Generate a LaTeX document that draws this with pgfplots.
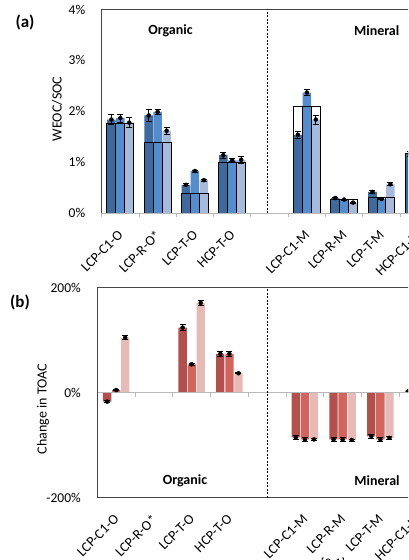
\documentclass[border=0pt]{standalone}
\usepackage{pgfplots}
\pgfplotsset{compat=1.18}
\usepackage{pgfplotstable}
\usepackage{fontspec}
\setmainfont{Carlito}
\definecolor{blueA}{RGB}{62,106,158}
\definecolor{blueB}{RGB}{84,140,204}
\definecolor{blueC}{RGB}{168,186,219}
\definecolor{redA}{RGB}{178,80,78}
\definecolor{redB}{RGB}{210,100,94}
\definecolor{redC}{RGB}{229,186,183}
\definecolor{spine}{RGB}{70,70,70}
\definecolor{lgray}{RGB}{185,185,185}

% panel (a): WEOC/SOC in %
\pgfplotstableread{
x   a1   e1    a2   e2    a3   e3    box
0.5 1.84 0.10  1.87 0.08  1.78 0.10  1.77
1.5 1.92 0.11  1.99 0.05  1.62 0.07  1.40
2.5 0.56 0.02  0.83 0.02  0.65 0.02  0.38
3.5 1.14 0.06  1.04 0.03  1.05 0.07  1.00
5.5 1.54 0.075 2.37 0.065 1.84 0.09  2.09
6.5 0.30 0.02  0.27 0.01  0.21 0.01  0.27
7.5 0.42 0.02  0.28 0.01  0.57 0.03  0.31
8.5 1.17 0.05  1.20 0.05  1.20 0.05  1.17
}\dataA

% panel (b): change in TOAC in %
\pgfplotstableread{
x   b1   f1  b2   f2  b3   f3
0.5 -17  2   5    1   105  4
2.5 124  6   54   2   171  4
3.5 74   4   74   4   37   1
5.5 -85  4   -89  3   -89  2
6.5 -89  4   -89  3   -90  2
7.5 -83  4   -89  3   -86  2
8.5 4    1   4    1   4    1
}\dataB

\pgfplotsset{
  common/.style={
    scale only axis,
    xmin=0, xmax=9,
    axis line style={draw=none},
    major tick length=0pt,
    tick style={draw=none},
    xtick={0.5,1.5,2.5,3.5,5.5,6.5,7.5,8.5},
    xticklabels={LCP-C1-O,LCP-R-O*,LCP-T-O,HCP-T-O,LCP-C1-M,LCP-R-M,LCP-T-M,HCP-C1-M},
    xticklabel style={xshift=-3pt, yshift=-11pt, rotate=45, anchor=north east, font=\fontsize{14}{16}\selectfont},
    yticklabel style={font=\fontsize{13.5}{16}\selectfont, xshift=-13pt},
    clip=false,
  },
  errs/.style={forget plot, only marks, mark=none,
    error bars/.cd, y dir=both, y explicit, error mark=none,
    error bar style={black, line width=0.8pt}},
  caps/.style={forget plot, only marks, mark=-, mark size=3pt,
    mark options={black, line width=0.8pt}},
}

\begin{document}
\begin{tikzpicture}
\useasboundingbox (0pt,0pt) rectangle (408pt,560pt);
\clip (0pt,0pt) rectangle (408pt,560pt);

% ---------------- panel (a)
\begin{axis}[common,
  at={(101.7pt,346.7pt)}, anchor=south west,
  width=335.7pt, height=203.8pt,
  ymin=0, ymax=4,
  ytick={0,1,2,3,4}, yticklabels={0\%,1\%,2\%,3\%,4\%},
]
\addplot[ybar, bar width=0.23, bar shift=-0.24, fill=blueA, draw=none] table[x=x,y=a1]{\dataA};
\addplot[ybar, bar width=0.23, bar shift=0, fill=blueB, draw=none] table[x=x,y=a2]{\dataA};
\addplot[ybar, bar width=0.23, bar shift=0.24, fill=blueC, draw=none] table[x=x,y=a3]{\dataA};
\addplot[ybar, bar width=0.24, bar shift=-0.24, fill=none, draw=black, line width=0.9pt] table[x=x,y=box]{\dataA};
\addplot[ybar, bar width=0.24, bar shift=0, fill=none, draw=black, line width=0.9pt] table[x=x,y=box]{\dataA};
\addplot[ybar, bar width=0.24, bar shift=0.24, fill=none, draw=black, line width=0.9pt] table[x=x,y=box]{\dataA};
% error bars
\addplot[errs] table[x expr=\thisrow{x}-0.24, y=a1, y error=e1]{\dataA};
\addplot[errs] table[x=x, y=a2, y error=e2]{\dataA};
\addplot[errs] table[x expr=\thisrow{x}+0.24, y=a3, y error=e3]{\dataA};
\addplot[caps] table[x expr=\thisrow{x}-0.24, y expr=\thisrow{a1}+\thisrow{e1}]{\dataA};
\addplot[caps] table[x expr=\thisrow{x}-0.24, y expr=\thisrow{a1}-\thisrow{e1}]{\dataA};
\addplot[caps] table[x=x, y expr=\thisrow{a2}+\thisrow{e2}]{\dataA};
\addplot[caps] table[x=x, y expr=\thisrow{a2}-\thisrow{e2}]{\dataA};
\addplot[caps] table[x expr=\thisrow{x}+0.24, y expr=\thisrow{a3}+\thisrow{e3}]{\dataA};
\addplot[caps] table[x expr=\thisrow{x}+0.24, y expr=\thisrow{a3}-\thisrow{e3}]{\dataA};
\draw[lgray, line width=0.8pt] (axis cs:0,0) -- (axis cs:9,0);
\pgfplotsinvokeforeach{0,...,9}{\draw[lgray, line width=0.8pt] (axis cs:#1,0) -- ([yshift=-4pt]axis cs:#1,0);}
\draw[spine, line width=1pt] (axis cs:0,0) -- (axis cs:0,4) -- (axis cs:9,4) -- (axis cs:9,0);
\draw[black, line width=0.6pt, dash pattern=on 2pt off 1.5pt] (axis cs:4.45,0) -- (axis cs:4.45,4);
\end{axis}

% ---------------- panel (b)
\begin{axis}[common,
  at={(97.3pt,62.3pt)}, anchor=south west,
  width=339.7pt, height=210pt,
  ymin=-200, ymax=200,
  ytick={-200,0,200}, yticklabels={-200\%,0\%,200\%},
]
\addplot[ybar, bar width=0.22, bar shift=-0.24, fill=redA, draw=none] table[x=x,y=b1]{\dataB};
\addplot[ybar, bar width=0.22, bar shift=0, fill=redB, draw=none] table[x=x,y=b2]{\dataB};
\addplot[ybar, bar width=0.22, bar shift=0.24, fill=redC, draw=none] table[x=x,y=b3]{\dataB};
% error bars
\addplot[errs] table[x expr=\thisrow{x}-0.24, y=b1, y error=f1]{\dataB};
\addplot[errs] table[x=x, y=b2, y error=f2]{\dataB};
\addplot[errs] table[x expr=\thisrow{x}+0.24, y=b3, y error=f3]{\dataB};
\addplot[caps] table[x expr=\thisrow{x}-0.24, y expr=\thisrow{b1}+\thisrow{f1}]{\dataB};
\addplot[caps] table[x expr=\thisrow{x}-0.24, y expr=\thisrow{b1}-\thisrow{f1}]{\dataB};
\addplot[caps] table[x=x, y expr=\thisrow{b2}+\thisrow{f2}]{\dataB};
\addplot[caps] table[x=x, y expr=\thisrow{b2}-\thisrow{f2}]{\dataB};
\addplot[caps] table[x expr=\thisrow{x}+0.24, y expr=\thisrow{b3}+\thisrow{f3}]{\dataB};
\addplot[caps] table[x expr=\thisrow{x}+0.24, y expr=\thisrow{b3}-\thisrow{f3}]{\dataB};
\draw[lgray, line width=0.8pt] (axis cs:0,0) -- (axis cs:9,0);
\pgfplotsinvokeforeach{0,...,9}{\draw[lgray, line width=0.8pt] (axis cs:#1,0) -- ([yshift=-4pt]axis cs:#1,0);}
\draw[spine, line width=1pt] (axis cs:0,-200) rectangle (axis cs:9,200);
\draw[black, line width=0.6pt, dash pattern=on 2pt off 1.5pt] (axis cs:4.5,-200) -- (axis cs:4.5,200);
\end{axis}

% ---------------- texts
\node[font=\fontsize{17}{19}\selectfont\bfseries] at (25pt,538pt) {(a)};
\node[font=\fontsize{14}{16}\selectfont, rotate=90] at (57pt,451pt) {WEOC/SOC};
\node[font=\fontsize{14}{16}\selectfont\bfseries] at (170.5pt,529pt) {Organic};
\node[font=\fontsize{14}{16}\selectfont\bfseries] at (376.7pt,529pt) {Mineral};
\node[font=\fontsize{17}{19}\selectfont\bfseries] at (20pt,258pt) {(b)};
\node[font=\fontsize{14}{16}\selectfont, rotate=90] at (43pt,151pt) {Change in TOAC};
\node[font=\fontsize{14}{16}\selectfont\bfseries] at (185pt,79.3pt) {Organic};
\node[font=\fontsize{14}{16}\selectfont\bfseries] at (377pt,79.3pt) {Mineral};
\node[font=\fontsize{13}{15}\selectfont, anchor=north] at (333pt,5pt) {[2.1]};
\end{tikzpicture}
\end{document}
